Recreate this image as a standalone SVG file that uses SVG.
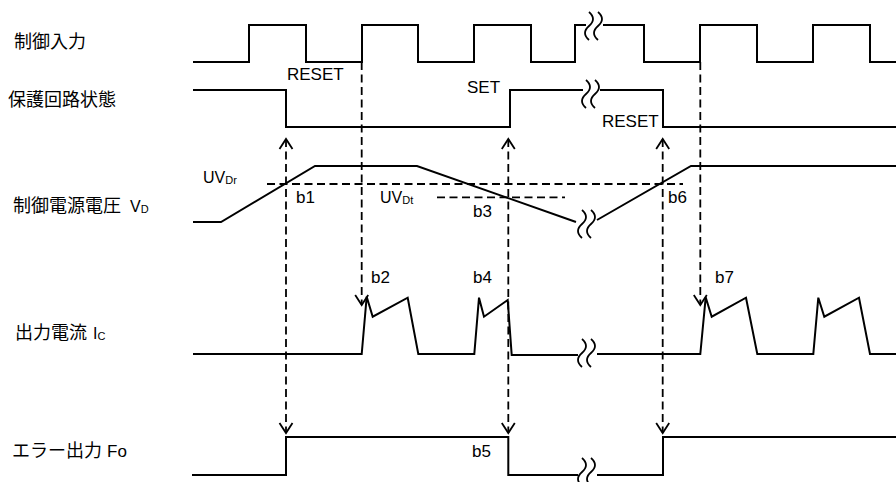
<svg xmlns="http://www.w3.org/2000/svg" xmlns:xlink="http://www.w3.org/1999/xlink" width="896" height="482" viewBox="0 0 896 482">
<style>
text{font-family:"Liberation Sans","Noto Sans CJK JP",sans-serif;fill:#000}
.lbl{font-size:18px}
.t{font-size:17px}
.uv{font-size:16px}
.lat{font-size:16px}
.sub{font-size:11px}
.w{fill:none;stroke:#000;stroke-width:2;stroke-linejoin:miter}
.d{fill:none;stroke:#000;stroke-width:1.8;stroke-dasharray:8,4.5}
.brk{fill:none;stroke:#000;stroke-width:1.8}
</style>
<defs>
<marker id="ah" markerUnits="userSpaceOnUse" markerWidth="24" markerHeight="24" viewBox="-12 -12 24 24" refX="0" refY="0" orient="auto-start-reverse" overflow="visible">
<path d="M-10,-6.5 L0,0 L-10,6.5" fill="none" stroke="#000" stroke-width="1.8"/>
</marker>
<g id="brkSym">
<path class="brk" d="M-5,-14 q8,7 0,14 q-8,7 0,14"/>
<path class="brk" d="M4,-14 q8,7 0,14 q-8,7 0,14"/>
</g>
</defs>
<rect width="896" height="482" fill="#fff"/>

<g id="labels">
<text class="lbl" x="14" y="48">制御入力</text>
<text class="lbl" x="8" y="106">保護回路状態</text>
<text class="lbl" x="13" y="212">制御電源電圧<tspan class="lat" x="130">V</tspan><tspan class="sub" dy="1">D</tspan></text>
<text class="lbl" x="15" y="339">出力電流<tspan class="lat" x="93">I</tspan><tspan class="sub" dy="1">C</tspan></text>
<text class="lbl" x="12" y="457">エラー出力<tspan class="t" x="107">Fo</tspan></text>
</g>

<g id="control-input">
<path class="w" d="M193,62 H249 V25 H306 V62 H362 V25 H418 V62 H474 V25 H531 V62 H575 V25 H586"/>
<path class="w" d="M603,25 H644 V62 H700 V25 H757 V62 H813 V25 H870 V62 H896"/>
<use xlink:href="#brkSym" x="594" y="26"/>
</g>

<g id="protection-state">
<path class="w" d="M193,90 H286 V127 H510 V90 H583"/>
<path class="w" d="M600,90 H663 V127 H896"/>
<use xlink:href="#brkSym" x="591" y="94"/>
<text class="t" x="287" y="80">RESET</text>
<text class="t" x="467" y="93">SET</text>
<text class="t" x="602" y="127">RESET</text>
</g>

<g id="supply-voltage">
<path class="w" d="M193,222 H221 L315,166 H417 L576,222"/>
<path class="w" d="M597,220 L691,166 H896"/>
<use xlink:href="#brkSym" x="587" y="224"/>
<text class="uv" x="203" y="183">UV<tspan class="sub" dy="1">Dr</tspan></text>
<text class="uv" x="380" y="203">UV<tspan class="sub" dy="1">Dt</tspan></text>
<text class="t" x="296" y="203">b1</text>
<text class="t" x="473" y="217">b3</text>
<text class="t" x="668" y="203">b6</text>
</g>

<g id="output-current">
<path class="w" d="M193,354 H361.7 L366.7,296.7 L372.7,316.7 L407.7,297.7 L418.3,354 H474.3 L479,297.7 L484,316.7 L507.7,300 L511.7,355 H578"/>
<path class="w" d="M597,354 H700.3 L705.7,297.3 L711.7,316.7 L746,297.7 L757.3,354 H813.3 L818.3,297.7 L824.3,316.7 L859,297.7 L870,354 H896"/>
<use xlink:href="#brkSym" x="587" y="353"/>
<text class="t" x="371" y="283">b2</text>
<text class="t" x="473" y="283">b4</text>
<text class="t" x="715" y="283">b7</text>
</g>

<g id="error-output">
<path class="w" d="M192,475 H286 V437 H508.3 V475 H578"/>
<path class="w" d="M597,475 H663 V437 H896"/>
<use xlink:href="#brkSym" x="587" y="472"/>
<text class="t" x="472" y="457">b5</text>
</g>

<g id="connectors">
<line class="d" x1="267" y1="184" x2="683" y2="184"/>
<line class="d" x1="437" y1="197.3" x2="565" y2="197.3"/>
<line class="d" x1="286" y1="139" x2="286" y2="433" marker-start="url(#ah)" marker-end="url(#ah)"/>
<line class="d" x1="508.3" y1="139" x2="508.3" y2="433" marker-start="url(#ah)" marker-end="url(#ah)"/>
<line class="d" x1="662.7" y1="139" x2="662.7" y2="433" marker-start="url(#ah)" marker-end="url(#ah)"/>
<line class="d" x1="361.7" y1="62" x2="361.7" y2="305" marker-end="url(#ah)"/>
<line class="d" x1="700.3" y1="62" x2="700.3" y2="305" marker-end="url(#ah)"/>
</g>
</svg>
